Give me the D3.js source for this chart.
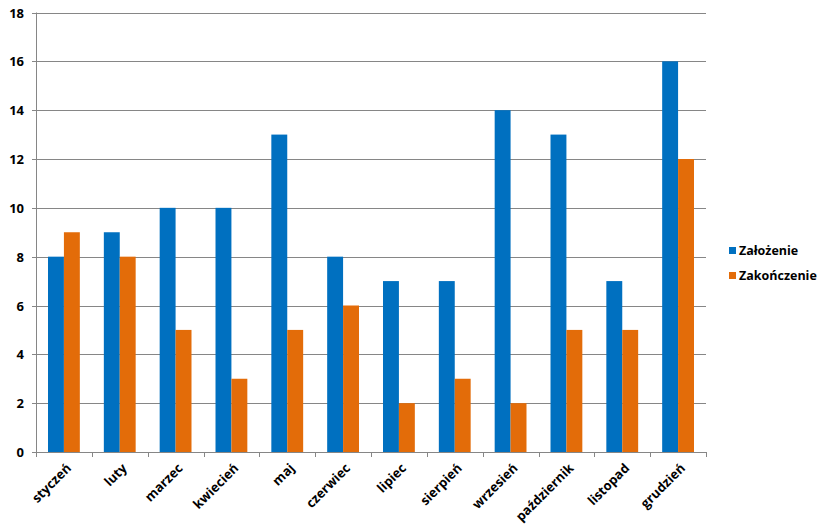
<!DOCTYPE html>
<html><head><meta charset="utf-8">
<script src="https://cdn.jsdelivr.net/npm/d3@7"></script>
<style>body{margin:0;background:#fff}svg{display:block}text{font-family:"Open Sans","Liberation Sans",sans-serif;font-weight:bold}</style>
</head><body>
<svg id="c" width="827" height="527"></svg>
<script>
const categories = ["styczeń","luty","marzec","kwiecień","maj","czerwiec","lipiec","sierpień","wrzesień","październik","listopad","grudzień"];
const seriesNames = ["Założenie","Zakończenie"];
const zalozenie = [8,9,10,10,13,8,7,7,14,13,7,16];
const zakonczenie = [9,8,5,3,5,6,2,3,2,5,5,12];
const yTicks = [0,2,4,6,8,10,12,14,16,18];
const colors = ["#0070C0","#E36C09"];

(function(){
const svg = d3.select("#c");
const pL = 36, pR = 706, pT = 12.5, pB = 452;
const x = d3.scaleBand().domain(categories).range([pL, pR]).paddingInner(0.43).paddingOuter(0.215);
const xs = d3.scaleBand().domain(seriesNames).range([0, x.bandwidth()]);
const y = d3.scaleLinear().domain([0,18]).range([pB, pT]);

svg.append("g").selectAll("line").data(yTicks).join("line")
  .attr("x1", pL-4).attr("x2", pR).attr("y1", d=>Math.round(y(d))+0.5).attr("y2", d=>Math.round(y(d))+0.5)
  .attr("stroke", "#868686").attr("stroke-width", 1);
svg.append("line").attr("x1", pL+0.5).attr("x2", pL+0.5).attr("y1", pT).attr("y2", pB+5).attr("stroke","#868686");
const bounds = d3.range(categories.length+1).map(i => pL + i*(pR-pL)/categories.length);
svg.append("g").selectAll("line").data(bounds).join("line")
  .attr("x1", d=>Math.round(d)+0.5).attr("x2", d=>Math.round(d)+0.5).attr("y1", pB).attr("y2", pB+5).attr("stroke","#868686");

svg.append("g").selectAll("text").data(yTicks).join("text")
  .attr("x", 24).attr("y", d=>y(d)+5).attr("text-anchor","end").attr("font-size", 13).attr("fill","#000").text(d=>d);

const data = categories.map((c,i)=>({c, vals:[zalozenie[i], zakonczenie[i]]}));
const g = svg.append("g").selectAll("g").data(data).join("g").attr("transform", d=>`translate(${x(d.c)},0)`);
g.selectAll("rect").data(d=>d.vals.map((v,j)=>({v, s:seriesNames[j], j}))).join("rect")
  .attr("x", d=>xs(d.s)).attr("width", xs.bandwidth()).attr("y", d=>y(d.v)).attr("height", d=>pB - y(d.v))
  .attr("fill", d=>colors[d.j]);

svg.append("g").selectAll("text").data(categories).join("text")
  .attr("transform", d=>`translate(${x(d)+x.bandwidth()/2+8},${pB+17}) rotate(-45)`)
  .attr("text-anchor","end").attr("font-size", 13).attr("fill","#000").text(d=>d);

const lg = svg.append("g").selectAll("g").data(seriesNames).join("g")
  .attr("transform", (d,i)=>`translate(729,${247+i*25})`);
lg.append("rect").attr("width",7).attr("height",7).attr("fill",(d,i)=>colors[i]);
lg.append("text").attr("x",10).attr("y",8).attr("font-size",12.5).attr("fill","#000").text(d=>d);
})();
</script>
</body></html>
